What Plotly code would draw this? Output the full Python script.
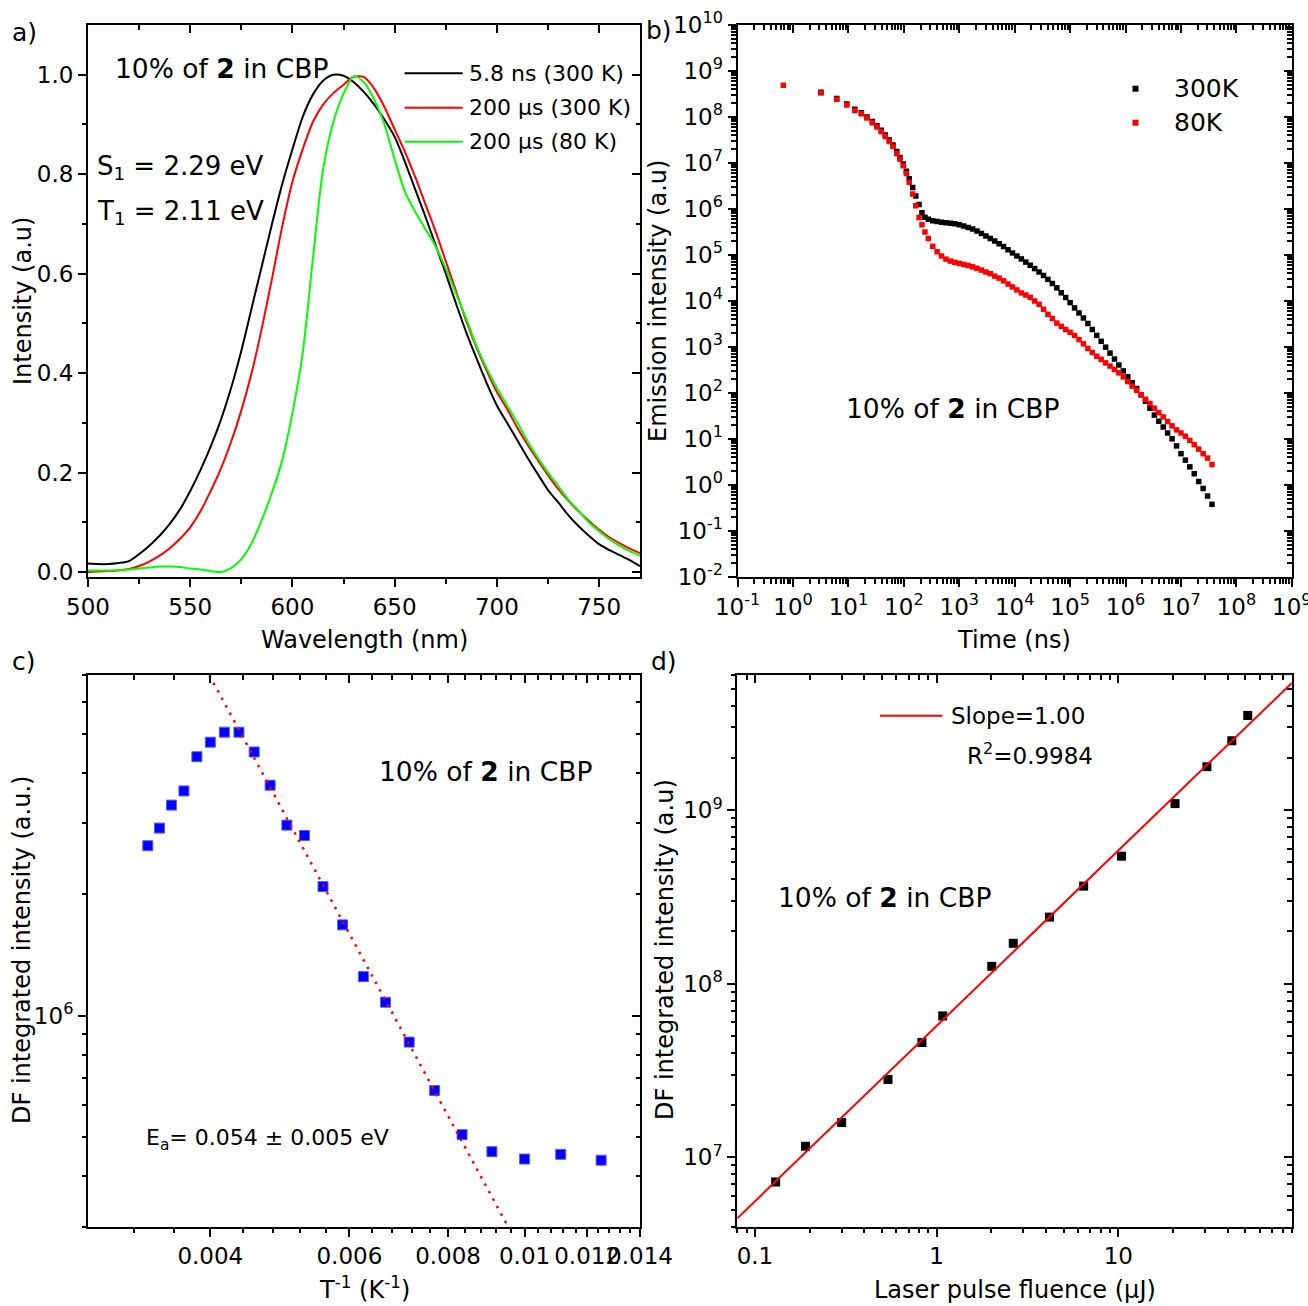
import numpy as np
import plotly.graph_objects as go

W, H = 1308, 1306
FONT = "DejaVu Sans"

# ---------------- (a) normalised emission spectra ----------------
wavelength_nm = [500, 505, 510, 515, 520, 525, 530, 535, 540, 545,
                 550, 555, 560, 565, 570, 575, 580, 585, 590, 595,
                 600, 605, 610, 615, 620, 625, 630, 635, 640, 645,
                 650, 655, 660, 665, 670, 675, 680, 685, 690, 695,
                 700, 705, 710, 715, 720, 725, 730, 735, 740, 745,
                 750, 755, 760, 765, 770]
spec_5p8ns_300K = [0.017, 0.016, 0.016, 0.018, 0.022, 0.036, 0.053, 0.073, 0.097, 0.126,
                   0.163, 0.205, 0.252, 0.306, 0.37, 0.445, 0.53, 0.615, 0.70, 0.78,
                   0.85, 0.915, 0.96, 0.988, 1.0, 0.998, 0.985, 0.965, 0.94, 0.91,
                   0.875, 0.825, 0.77, 0.715, 0.658, 0.60, 0.54, 0.482, 0.43, 0.38,
                   0.335, 0.30, 0.265, 0.23, 0.197, 0.165, 0.14, 0.114, 0.092, 0.073,
                   0.056, 0.044, 0.034, 0.024, 0.012]
spec_200us_300K = [0.0, 0.001, 0.002, 0.003, 0.006, 0.012, 0.021, 0.033, 0.048, 0.067,
                   0.09, 0.122, 0.163, 0.208, 0.262, 0.325, 0.40, 0.49, 0.59, 0.695,
                   0.785, 0.85, 0.905, 0.94, 0.963, 0.98, 0.996, 0.995, 0.972, 0.935,
                   0.89, 0.845, 0.795, 0.74, 0.685, 0.625, 0.565, 0.505, 0.452, 0.405,
                   0.362, 0.328, 0.29, 0.256, 0.225, 0.195, 0.167, 0.143, 0.122, 0.103,
                   0.085, 0.07, 0.058, 0.047, 0.038]
spec_200us_80K = [0.003, 0.003, 0.003, 0.004, 0.005, 0.007, 0.009, 0.011, 0.011, 0.010,
                  0.007, 0.005, 0.002, 0.0, 0.008, 0.026, 0.058, 0.105, 0.16, 0.225,
                  0.32, 0.44, 0.63, 0.81, 0.905, 0.962, 0.997, 0.985, 0.95, 0.90,
                  0.83, 0.765, 0.725, 0.69, 0.655, 0.61, 0.56, 0.51, 0.455, 0.41,
                  0.37, 0.335, 0.30, 0.263, 0.23, 0.20, 0.173, 0.145, 0.123, 0.10,
                  0.082, 0.066, 0.053, 0.042, 0.033]

# ---------------- (b) emission decays ----------------
time_early_300K_ns = [3.20, 6.14, 9.31, 13.0, 17.1, 21.6, 27.0, 32.7, 39.2, 46.2, 54.6, 63.7,
                      74.3, 85.1, 97.7, 111, 125, 144, 164, 188, 212, 240, 276]
emis_early_300K = [3.47e8, 2.51e8, 1.91e8, 1.48e8, 1.23e8, 1.00e8, 7.94e7, 6.46e7, 5.13e7, 4.07e7,
                   3.16e7, 2.45e7, 1.78e7, 1.32e7, 9.55e6, 6.61e6, 4.57e6, 2.95e6, 1.91e6, 1.26e6,
                   8.32e5, 6.61e5, 5.96e5]
time_early_80K_ns = [0.668, 3.20, 6.14, 9.31, 13.0, 17.1, 21.6, 27.0, 32.7, 39.2, 46.2, 54.6, 63.7,
                     74.3, 85.1, 97.7, 111, 125, 144, 164, 188, 212, 240, 276]
emis_early_80K = [4.88e8, 3.31e8, 2.42e8, 1.82e8, 1.39e8, 1.17e8, 9.46e7, 7.48e7, 6.03e7, 4.76e7,
                  3.78e7, 2.94e7, 2.29e7, 1.61e7, 1.21e7, 8.67e6, 5.93e6, 3.83e6, 2.13e6, 1.17e6,
                  6.53e5, 4.57e5, 3.16e5, 2.29e5]
time_late_ns = [331, 398, 479, 575, 692, 832, 1000, 1202, 1445, 1738, 2089, 2512, 3020, 3631,
                4365, 5248, 6310, 7586, 9120, 1.096e4, 1.318e4, 1.585e4, 1.905e4, 2.291e4,
                2.754e4, 3.311e4, 3.981e4, 4.786e4, 5.754e4, 6.918e4, 8.318e4, 1.0e5, 1.202e5,
                1.445e5, 1.738e5, 2.089e5, 2.512e5, 3.020e5, 3.631e5, 4.365e5, 5.248e5, 6.310e5,
                7.586e5, 9.120e5, 1.096e6, 1.318e6, 1.585e6, 1.905e6, 2.291e6, 2.754e6, 3.311e6,
                3.981e6, 4.786e6, 5.754e6, 6.918e6, 8.318e6, 1.0e7, 1.202e7, 1.445e7, 1.738e7,
                2.089e7, 2.512e7, 3.020e7, 3.631e7]
emis_late_300K = [5.56e5, 5.37e5, 5.13e5, 5.01e5, 4.90e5, 4.75e5, 4.52e5, 4.27e5, 3.98e5, 3.67e5,
                  3.31e5, 2.93e5, 2.59e5, 2.29e5, 2.01e5, 1.76e5, 1.53e5, 1.30e5, 1.11e5, 9.55e4,
                  8.22e4, 7.01e4, 5.97e4, 5.07e4, 4.27e4, 3.59e4, 2.95e4, 2.40e4, 1.93e4, 1.51e4,
                  1.19e4, 9.23e3, 7.08e3, 5.50e3, 4.27e3, 3.24e3, 2.40e3, 1.79e3, 1.33e3, 991,
                  736, 547, 406, 302, 225, 167, 125, 91.2, 66.5, 46.8,
                  33.1, 24.4, 18.2, 13.5, 10.1, 7.08, 4.79, 3.47, 2.48, 1.76,
                  1.19, 0.841, 0.575, 0.380]
emis_late_80K = [1.55e5, 1.17e5, 9.55e4, 8.13e4, 7.38e4, 6.92e4, 6.58e4, 6.24e4, 5.92e4, 5.53e4,
                 5.13e4, 4.70e4, 4.27e4, 3.92e4, 3.47e4, 3.14e4, 2.75e4, 2.34e4, 2.02e4, 1.74e4,
                 1.50e4, 1.35e4, 1.20e4, 1.00e4, 8.51e3, 6.61e3, 5.13e3, 4.17e3, 3.31e3, 2.82e3,
                 2.40e3, 2.09e3, 1.78e3, 1.45e3, 1.17e3, 933, 759, 631, 537, 452,
                 385, 324, 275, 224, 178, 141, 115, 91.2, 73.3, 58.9,
                 46.8, 37.6, 30.2, 24.0, 19.3, 15.8, 13.5, 11.5, 9.33, 7.50,
                 6.03, 4.79, 3.85, 2.79]

# ---------------- (c) DF vs inverse temperature ----------------
temperature_K = [300, 290, 280, 270, 260, 250, 240, 230, 220, 210, 200, 190,
                 180, 170, 160, 150, 140, 130, 120, 110, 100, 90, 80]
df_intensity_c = [2.64e6, 2.92e6, 3.33e6, 3.61e6, 4.39e6, 4.77e6, 5.05e6, 5.05e6, 4.51e6, 3.73e6,
                  2.97e6, 2.80e6, 2.09e6, 1.68e6, 1.25e6, 1.08e6, 8.6e5, 6.52e5, 5.07e5, 4.60e5,
                  4.41e5, 4.53e5, 4.38e5]
fit_T_range_K = [120, 230]

# ---------------- (d) DF vs laser fluence ----------------
fluence_uJ = [0.13, 0.19, 0.30, 0.54, 0.83, 1.08, 2.01, 2.64, 4.18, 6.44, 10.4, 20.5, 30.7, 42.1, 51.5]
df_intensity_d = [7.22e6, 1.16e7, 1.59e7, 2.81e7, 4.59e7, 6.53e7, 1.26e8, 1.71e8, 2.42e8, 3.65e8,
                  5.43e8, 1.09e9, 1.78e9, 2.51e9, 3.51e9]

# ---------------- tick labels ----------------
sup = lambda e: "10<sup>%s</sup>" % e
b_xticks = [10.0 ** k for k in range(-1, 10)]
b_xtext = [sup(k) for k in range(-1, 10)]
b_yticks = [10.0 ** k for k in range(-2, 11)]
b_ytext = [sup(k) for k in range(-2, 11)]
c_xticks = [0.004, 0.006, 0.008, 0.01, 0.012, 0.014]
c_xtext = ["0.004", "0.006", "0.008", "0.01", "0.012", "0.014"]
c_yticks = [1e6]
c_ytext = [sup(6)]
d_xticks = [0.1, 1, 10]
d_xtext = ["0.1", "1", "10"]
d_yticks = [1e7, 1e8, 1e9]
d_ytext = [sup(7), sup(8), sup(9)]


def log_minor(lo_exp, hi_exp, lo=None, hi=None):
    vals = []
    for e in range(lo_exp, hi_exp + 1):
        for m in range(2, 10):
            v = m * 10.0 ** e
            if (lo is None or v >= lo * 0.999) and (hi is None or v <= hi * 1.001):
                vals.append(v)
    return vals


c_xminor = [round(v, 5) for v in np.arange(0.0032, 0.01361, 0.0004) if abs(v / 0.002 - round(v / 0.002)) > 1e-3]

fig = go.Figure()

# (a)
for ys, col in [(spec_5p8ns_300K, "#000000"), (spec_200us_300K, "#ff0000"), (spec_200us_80K, "#00ff00")]:
    fig.add_trace(go.Scatter(x=wavelength_nm, y=ys, mode="lines",
                             line=dict(color=col, width=2, shape="spline", smoothing=0.8),
                             xaxis="x", yaxis="y", showlegend=False, hoverinfo="skip"))
# (b)
fig.add_trace(go.Scatter(x=time_early_300K_ns + time_late_ns, y=emis_early_300K + emis_late_300K,
                         mode="markers", marker=dict(symbol="square", size=5.5, color="#000000", line=dict(width=0)),
                         xaxis="x2", yaxis="y2", showlegend=False, hoverinfo="skip"))
fig.add_trace(go.Scatter(x=time_early_80K_ns + time_late_ns, y=emis_early_80K + emis_late_80K,
                         mode="markers", marker=dict(symbol="square", size=5.5, color="#ff0000", line=dict(width=0)),
                         xaxis="x2", yaxis="y2", showlegend=False, hoverinfo="skip"))
# (c)
inv_T = [1.0 / t for t in temperature_K]
fig.add_trace(go.Scatter(x=inv_T, y=df_intensity_c, mode="markers",
                         marker=dict(symbol="square", size=10, color="#0000ff", line=dict(width=1, color="#5a5aff")),
                         xaxis="x3", yaxis="y3", showlegend=False, hoverinfo="skip"))
sel = [i for i, t in enumerate(temperature_K) if fit_T_range_K[0] <= t <= fit_T_range_K[1]]
sc, ic = np.polyfit(np.log10([inv_T[i] for i in sel]), np.log10([df_intensity_c[i] for i in sel]), 1)
c_xr = [0.0028, 0.014]
fx = np.array(c_xr)
fig.add_trace(go.Scatter(x=fx, y=10 ** (ic + sc * np.log10(fx)), mode="lines",
                         line=dict(color="#ff0000", width=2.5, dash="2.5px,6px"),
                         xaxis="x3", yaxis="y3", showlegend=False, hoverinfo="skip"))
# (d)
fig.add_trace(go.Scatter(x=fluence_uJ, y=df_intensity_d, mode="markers",
                         marker=dict(symbol="square", size=9, color="#000000", line=dict(width=0)),
                         xaxis="x4", yaxis="y4", showlegend=False, hoverinfo="skip"))
sd, idd = np.polyfit(np.log10(fluence_uJ), np.log10(df_intensity_d), 1)
d_xr = [0.08, 90]
gx = np.array(d_xr)
fig.add_trace(go.Scatter(x=gx, y=10 ** (idd + sd * np.log10(gx)), mode="lines",
                         line=dict(color="#ff0000", width=2),
                         xaxis="x4", yaxis="y4", showlegend=False, hoverinfo="skip"))

layout = {}
COMMON = dict(showgrid=False, zeroline=False, automargin=False, tickcolor="black", tickwidth=2,
              ticklen=8, tickangle=0, ticklabeloverflow="allow",
              tickfont=dict(family=FONT, size=23, color="black"))
MINOR = dict(ticklen=4.5, tickwidth=1.8, tickcolor="black", showgrid=False, tickmode="array")


def rng(typ, r):
    if typ == "log":
        a, b = np.log10(r[0]), np.log10(r[1])
        return [a - 1e-6, b + 1e-6]
    return [r[0] - 1e-6, r[1] + 1e-6]


def add_panel(n, on, box, xc, yc):
    x0, x1, y0, y1 = box
    dx = [x0 / W, x1 / W]
    dy = [1 - y1 / H, 1 - y0 / H]
    s = "" if n == 1 else str(n)
    o = str(on)
    layout["xaxis" + s] = dict(COMMON, domain=dx, anchor="y" + s, side="bottom", type=xc["type"],
                               range=rng(xc["type"], xc["range"]), showline=True, linecolor="black",
                               linewidth=2, mirror=True, ticks="outside", tickmode="array",
                               tickvals=xc["ticks"], ticktext=xc["text"],
                               minor=dict(MINOR, ticks="outside", tickvals=xc["minor"]))
    layout["yaxis" + s] = dict(COMMON, domain=dy, anchor="x" + s, side="left", type=yc["type"],
                               range=rng(yc["type"], yc["range"]), showline=True, linecolor="black",
                               linewidth=2, mirror=True, ticks="outside", tickmode="array",
                               tickvals=yc["ticks"], ticktext=yc["text"],
                               minor=dict(MINOR, ticks="outside", tickvals=yc["minor"]))
    layout["xaxis" + o] = dict(COMMON, overlaying="x" + s, anchor="y" + o, side="top", type=xc["type"],
                               range=rng(xc["type"], xc["range"]), showline=False, ticks="inside",
                               tickmode="array", tickvals=xc["ticks"], showticklabels=False,
                               minor=dict(MINOR, ticks="inside", tickvals=xc["minor"]))
    layout["yaxis" + o] = dict(COMMON, overlaying="y" + s, anchor="x" + o, side="right", type=yc["type"],
                               range=rng(yc["type"], yc["range"]), showline=False, ticks="inside",
                               tickmode="array", tickvals=yc["ticks"], showticklabels=False,
                               minor=dict(MINOR, ticks="inside", tickvals=yc["minor"]))
    fig.add_trace(go.Scatter(x=[None], y=[None], xaxis="x" + o, yaxis="y" + o, showlegend=False,
                             hoverinfo="skip"))


add_panel(1, 5, (88, 640, 25, 577),
          dict(type="linear", range=[500, 770], ticks=[500, 550, 600, 650, 700, 750],
               text=["500", "550", "600", "650", "700", "750"], minor=[525, 575, 625, 675, 725]),
          dict(type="linear", range=[-0.01, 1.1], ticks=[0, 0.2, 0.4, 0.6, 0.8, 1.0],
               text=["0.0", "0.2", "0.4", "0.6", "0.8", "1.0"], minor=[0.1, 0.3, 0.5, 0.7, 0.9]))
add_panel(2, 6, (737.6, 1291.8, 25, 577),
          dict(type="log", range=[0.1, 1e9], ticks=b_xticks, text=b_xtext, minor=log_minor(-1, 8)),
          dict(type="log", range=[1e-2, 1e10], ticks=b_yticks, text=b_ytext, minor=log_minor(-2, 9)))
add_panel(3, 7, (88, 640, 675, 1226.5),
          dict(type="log", range=c_xr, ticks=c_xticks, text=c_xtext, minor=c_xminor),
          dict(type="log", range=[3e5, 7e6], ticks=c_yticks, text=c_ytext,
               minor=log_minor(5, 6, lo=3e5, hi=7e6)))
add_panel(4, 8, (737.3, 1291.8, 675, 1226.5),
          dict(type="log", range=d_xr, ticks=d_xticks, text=d_xtext, minor=log_minor(-2, 1, lo=0.08, hi=90)),
          dict(type="log", range=[4e6, 6e9], ticks=d_yticks, text=d_ytext, minor=log_minor(6, 9, lo=4e6, hi=6e9)))

ann = []


def T(text, x, y, size, xa="left", angle=0):
    ann.append(dict(text=text, x=x / W, y=1 - y / H, xref="paper", yref="paper", xanchor=xa,
                    yanchor="middle", showarrow=False, textangle=angle,
                    font=dict(family=FONT, size=size, color="black")))


# panel labels
T("a)", 10, 32, 25)
T("b)", 644, 30, 25)
T("c)", 10, 661, 25)
T("d)", 649, 661, 25)
# axis titles
T("Intensity (a.u)", 23, 301, 24, xa="center", angle=-90)
T("Wavelength (nm)", 364, 640, 24, xa="center")
T("Emission intensity (a.u)", 658, 301, 24, xa="center", angle=-90)
T("Time (ns)", 1014, 640, 24, xa="center")
T("DF integrated intensity (a.u.)", 22, 950, 24, xa="center", angle=-90)
T("T<sup>-1</sup> (K<sup>-1</sup>)", 364, 1288, 24, xa="center")
T("DF integrated intensity (a.u)", 665, 950, 24, xa="center", angle=-90)
T("Laser pulse fluence (\u03bcJ)", 1015, 1290, 24, xa="center")
# in-plot texts
T("10% of <b>2</b> in CBP", 113, 69, 26.5)
T("S<sub>1</sub> = 2.29 eV", 95, 168, 26)
T("T<sub>1</sub> = 2.11 eV", 95, 212, 26)
T("10% of <b>2</b> in CBP", 844, 409, 26.5)
T("10% of <b>2</b> in CBP", 377, 771, 26.5)
T("E<sub>a</sub>= 0.054 \u00b1 0.005 eV", 144, 1139, 22)
T("10% of <b>2</b> in CBP", 776, 897, 26.5)
# legend (a)
shapes = []
for ypx, col, lab in [(73.3, "#000000", "5.8 ns (300 K)"), (107.7, "#ff0000", "200 \u03bcs (300 K)"),
                      (141.7, "#00ff00", "200 \u03bcs (80 K)")]:
    shapes.append(dict(type="line", xref="paper", yref="paper", x0=404.6 / W, x1=462.7 / W,
                       y0=1 - ypx / H, y1=1 - ypx / H, line=dict(color=col, width=2)))
    T(lab, 467, ypx, 22)
# legend (b)
for ypx, col, lab in [(88.7, "#000000", "300K"), (122.7, "#ff0000", "80K")]:
    shapes.append(dict(type="rect", xref="paper", yref="paper", x0=1132.5 / W, x1=1138.5 / W,
                       y0=1 - (ypx + 3) / H, y1=1 - (ypx - 3) / H, fillcolor=col, line=dict(width=0)))
    T(lab, 1172, ypx, 25)
# legend (d)
shapes.append(dict(type="line", xref="paper", yref="paper", x0=880 / W, x1=942.4 / W,
                   y0=1 - 715.7 / H, y1=1 - 715.7 / H, line=dict(color="#ff0000", width=2)))
T("Slope=1.00", 949, 716, 23)
T("R<sup>2</sup>=0.9984", 965, 754, 23)

fig.update_layout(width=W, height=H, autosize=False, margin=dict(l=0, r=0, t=0, b=0, pad=0),
                  paper_bgcolor="white", plot_bgcolor="rgba(0,0,0,0)", showlegend=False,
                  annotations=ann, shapes=shapes, **layout)
fig.write_html("out.html")
